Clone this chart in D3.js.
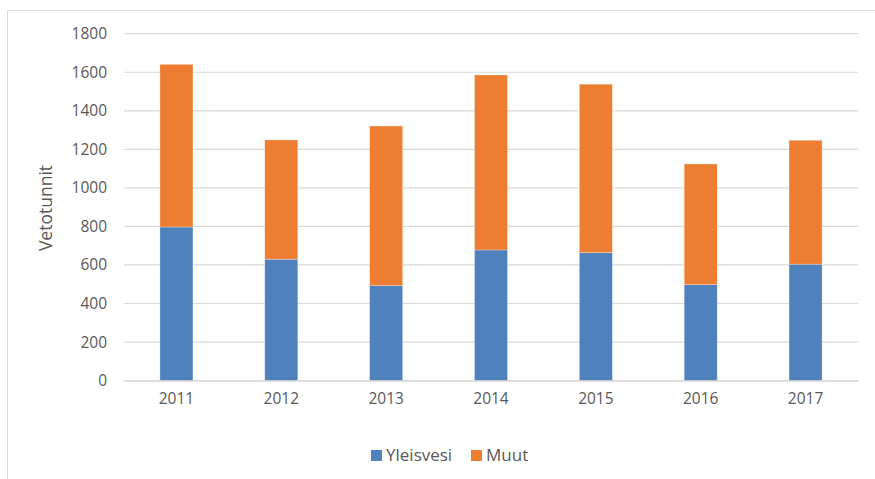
<!DOCTYPE html>
<html>
<head>
<meta charset="utf-8">
<script src="https://cdn.jsdelivr.net/npm/d3@7"></script>
<style>
  body { margin: 0; background: #fff; }
  text { font-family: "Open Sans", sans-serif; fill: #595959; }
</style>
</head>
<body>
<svg></svg>
<script>
const years = ['2011', '2012', '2013', '2014', '2015', '2016', '2017'];
const yleisvesi = [797, 630, 493, 678, 664, 498, 604];
const muut = [844, 619, 828, 908, 874, 626, 643];
const yTicks = [0, 200, 400, 600, 800, 1000, 1200, 1400, 1600, 1800];
const seriesNames = ['Yleisvesi', 'Muut'];
const colors = ['#4f81bd', '#ed7d31'];

const width = 875;
const height = 479;
const plotLeft = 124, plotRight = 858, plotTop = 33.7, plotBottom = 380.6;

const svg = d3.select('svg').attr('width', width).attr('height', height);

// chart frame (clipped at right/bottom like the source)
svg.append('rect')
  .attr('x', 7.5).attr('y', 10.5)
  .attr('width', 900).attr('height', 500)
  .attr('fill', 'none').attr('stroke', '#d9d9d9');

const xScale = d3.scaleBand().domain(years).range([plotLeft, plotRight])
  .paddingInner(0.685).paddingOuter(0.3425);
const yScale = d3.scaleLinear().domain([0, 1800]).range([plotBottom, plotTop]);

// gridlines
svg.append('g')
  .selectAll('line')
  .data(yTicks)
  .enter()
  .append('line')
  .attr('x1', plotLeft).attr('x2', plotRight)
  .attr('y1', d => yScale(d)).attr('y2', d => yScale(d))
  .attr('stroke', '#d9d9d9').attr('stroke-width', 1.2);

const yAxis = svg.append('g')
  .attr('transform', 'translate(' + plotLeft + ',0)')
  .call(d3.axisLeft(yScale).tickValues(yTicks).tickFormat(d3.format('d')).tickSize(0).tickPadding(17));
yAxis.select('.domain').remove();
yAxis.selectAll('text').style('font-size', '15.5px').attr('fill', '#595959');

const stackData = years.map((y, i) => ({year: y, Yleisvesi: yleisvesi[i], Muut: muut[i]}));
const stacked = d3.stack().keys(seriesNames)(stackData);

svg.selectAll('.series')
  .data(stacked)
  .enter()
  .append('g')
  .attr('class', 'series')
  .attr('fill', (d, i) => colors[i])
  .selectAll('rect')
  .data(d => d)
  .enter()
  .append('rect')
  .attr('x', d => xScale(d.data.year))
  .attr('y', d => yScale(d[1]))
  .attr('width', xScale.bandwidth())
  .attr('height', d => yScale(d[0]) - yScale(d[1]))
  .attr('stroke', '#ffffff').attr('stroke-opacity', 0.35).attr('stroke-width', 0.8);

const xAxis = svg.append('g')
  .attr('transform', 'translate(0,' + plotBottom + ')')
  .call(d3.axisBottom(xScale).tickSize(0).tickPadding(12));
xAxis.select('.domain').attr('stroke', '#d9d9d9').attr('stroke-width', 1.2);
xAxis.selectAll('text').style('font-size', '15.5px').attr('fill', '#595959');

svg.append('text')
  .attr('transform', 'translate(52,208) rotate(-90)')
  .attr('text-anchor', 'middle')
  .style('font-size', '17.5px')
  .text('Vetotunnit');

// legend
const legendX = [371, 471];
const legend = svg.selectAll('.legend')
  .data(seriesNames)
  .enter()
  .append('g')
  .attr('class', 'legend')
  .attr('transform', (d, i) => 'translate(' + legendX[i] + ',450)');
legend.append('rect')
  .attr('width', 11).attr('height', 11)
  .attr('fill', (d, i) => colors[i]);
legend.append('text')
  .attr('x', 15).attr('y', 11)
  .style('font-size', '17px')
  .text(d => d);
</script>
</body>
</html>
